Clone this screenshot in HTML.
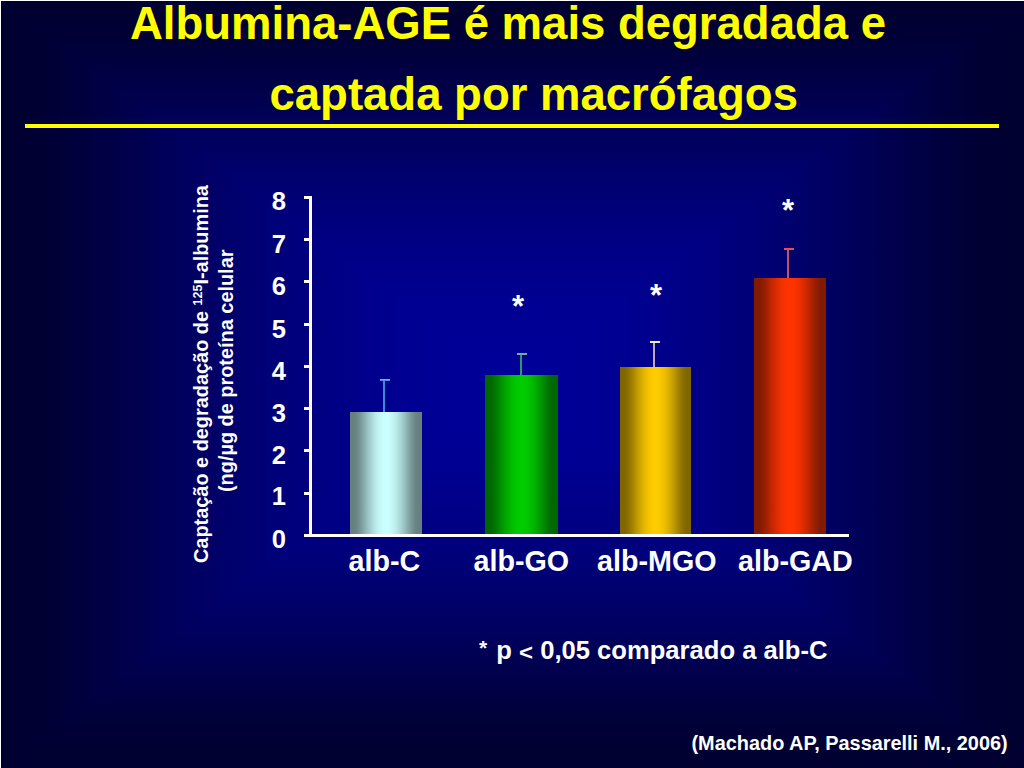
<!DOCTYPE html>
<html><head><meta charset="utf-8">
<style>
html,body{margin:0;padding:0;}
body{width:1024px;height:768px;position:relative;overflow:hidden;background:#000040;font-family:"Liberation Sans",sans-serif;font-weight:bold;}
.tri{position:absolute;left:0;top:0;width:1024px;height:768px;}
.abs{position:absolute;white-space:nowrap;line-height:1;}
.r{position:absolute;}
.title{color:#ffff00;font-size:45.5px;}
.wt{color:#fff;}
.num{position:absolute;color:#fff;font-size:25.6px;line-height:1;width:40px;text-align:right;left:246px;}
.tk{position:absolute;left:304px;width:8px;height:3px;background:#fff;}
.bar{position:absolute;bottom:234px;}
.eb{position:absolute;width:2px;}
.cap{position:absolute;height:2px;width:10px;}
.xl{position:absolute;color:#fff;font-size:28.7px;line-height:1;white-space:nowrap;}
.ast{position:absolute;color:#fff;font-size:31px;line-height:1;}
.yt{position:absolute;color:#fff;font-size:19.9px;line-height:1;white-space:nowrap;transform-origin:0 0;transform:rotate(-90deg);}


.h{background:linear-gradient(to right,#000030 0.0px,#000031 21.3px,#000035 42.7px,#00003a 64.0px,#000040 85.3px,#000046 106.7px,#00004d 128.0px,#000054 149.3px,#00005b 170.7px,#000061 192.0px,#000068 213.3px,#00006e 234.7px,#000074 256.0px,#000079 277.3px,#00007e 298.7px,#000083 320.0px,#000087 341.3px,#00008b 362.7px,#00008f 384.0px,#000092 405.3px,#000094 426.7px,#000096 448.0px,#000098 469.3px,#000099 490.7px,#000099 512.0px,#000099 533.3px,#000098 554.7px,#000096 576.0px,#000094 597.3px,#000092 618.7px,#00008f 640.0px,#00008b 661.3px,#000087 682.7px,#000083 704.0px,#00007e 725.3px,#000079 746.7px,#000074 768.0px,#00006e 789.3px,#000068 810.7px,#000061 832.0px,#00005b 853.3px,#000054 874.7px,#00004d 896.0px,#000046 917.3px,#000040 938.7px,#00003a 960.0px,#000035 981.3px,#000031 1002.7px,#000030 1024.0px);}
.t{clip-path:polygon(0 0,1024px 0,512px 384px);background:linear-gradient(to bottom,#000030 0.0px,#000031 16.0px,#000035 32.0px,#00003a 48.0px,#000040 64.0px,#000046 80.0px,#00004d 96.0px,#000054 112.0px,#00005b 128.0px,#000061 144.0px,#000068 160.0px,#00006e 176.0px,#000074 192.0px,#000079 208.0px,#00007e 224.0px,#000083 240.0px,#000087 256.0px,#00008b 272.0px,#00008f 288.0px,#000092 304.0px,#000094 320.0px,#000096 336.0px,#000098 352.0px,#000099 368.0px,#000099 384.0px);}
.b{clip-path:polygon(0 768px,1024px 768px,512px 384px);background:linear-gradient(to top,#000030 0.0px,#000031 16.0px,#000035 32.0px,#00003a 48.0px,#000040 64.0px,#000046 80.0px,#00004d 96.0px,#000054 112.0px,#00005b 128.0px,#000061 144.0px,#000068 160.0px,#00006e 176.0px,#000074 192.0px,#000079 208.0px,#00007e 224.0px,#000083 240.0px,#000087 256.0px,#00008b 272.0px,#00008f 288.0px,#000092 304.0px,#000094 320.0px,#000096 336.0px,#000098 352.0px,#000099 368.0px,#000099 384.0px);}
.bc{background:linear-gradient(to right,#668080 0.00%,#668080 3.12%,#678181 6.25%,#6b8686 9.38%,#739090 12.50%,#7c9b9b 15.62%,#86a8a8 18.75%,#91b6b6 21.88%,#9cc3c3 25.00%,#a5cfcf 28.12%,#afdada 31.25%,#b7e5e5 34.38%,#beeeee 37.50%,#c4f5f5 40.62%,#c8fafa 43.75%,#cbfefe 46.88%,#ccffff 50.00%,#cbfefe 53.12%,#c8fafa 56.25%,#c4f5f5 59.38%,#beeeee 62.50%,#b7e5e5 65.62%,#afdada 68.75%,#a5cfcf 71.88%,#9cc3c3 75.00%,#91b6b6 78.12%,#86a8a8 81.25%,#7c9b9b 84.38%,#739090 87.50%,#6b8686 90.62%,#678181 93.75%,#668080 96.88%,#668080 100.00%);}
.bg{background:linear-gradient(to right,#006600 0.00%,#006600 3.12%,#006700 6.25%,#006b00 9.38%,#007300 12.50%,#007c00 15.62%,#008600 18.75%,#009100 21.88%,#009c00 25.00%,#00a500 28.12%,#00af00 31.25%,#00b700 34.38%,#00be00 37.50%,#00c400 40.62%,#00c800 43.75%,#00cb00 46.88%,#00cc00 50.00%,#00cb00 53.12%,#00c800 56.25%,#00c400 59.38%,#00be00 62.50%,#00b700 65.62%,#00af00 68.75%,#00a500 71.88%,#009c00 75.00%,#009100 78.12%,#008600 81.25%,#007c00 84.38%,#007300 87.50%,#006b00 90.62%,#006700 93.75%,#006600 96.88%,#006600 100.00%);}
.bm{background:linear-gradient(to right,#806600 0.00%,#806600 3.12%,#816700 6.25%,#866b00 9.38%,#907300 12.50%,#9b7c00 15.62%,#a88600 18.75%,#b69100 21.88%,#c39c00 25.00%,#cfa500 28.12%,#daaf00 31.25%,#e5b700 34.38%,#eebe00 37.50%,#f5c400 40.62%,#fac800 43.75%,#fecb00 46.88%,#ffcc00 50.00%,#fecb00 53.12%,#fac800 56.25%,#f5c400 59.38%,#eebe00 62.50%,#e5b700 65.62%,#daaf00 68.75%,#cfa500 71.88%,#c39c00 75.00%,#b69100 78.12%,#a88600 81.25%,#9b7c00 84.38%,#907300 87.50%,#866b00 90.62%,#816700 93.75%,#806600 96.88%,#806600 100.00%);}
.bd{background:linear-gradient(to right,#801a00 0.00%,#801a00 3.12%,#811a00 6.25%,#861b00 9.38%,#901d00 12.50%,#9b1f00 15.62%,#a82200 18.75%,#b62400 21.88%,#c32700 25.00%,#cf2900 28.12%,#da2c00 31.25%,#e52e00 34.38%,#ee3000 37.50%,#f53100 40.62%,#fa3200 43.75%,#fe3300 46.88%,#ff3300 50.00%,#fe3300 53.12%,#fa3200 56.25%,#f53100 59.38%,#ee3000 62.50%,#e52e00 65.62%,#da2c00 68.75%,#cf2900 71.88%,#c32700 75.00%,#b62400 78.12%,#a82200 81.25%,#9b1f00 84.38%,#901d00 87.50%,#861b00 90.62%,#811a00 93.75%,#801a00 96.88%,#801a00 100.00%);}

</style></head><body>
<div class="tri h"></div><div class="tri t"></div><div class="tri b"></div>
<div class="r" style="left:0;top:1px;width:1024px;height:1px;background:#00001c"></div>
<div class="r" style="left:1px;top:0;width:1px;height:768px;background:#00001c"></div>
<div class="r" style="left:0;top:0;width:1024px;height:1px;background:#fff"></div>
<div class="r" style="left:0;top:0;width:1px;height:768px;background:#fff"></div>
<div class="abs title" style="left:130px;top:1px">Albumina-AGE é mais degradada e</div>
<div class="abs title" style="left:269.5px;top:72px">captada por macrófagos</div>
<div class="r" style="left:25px;top:124px;width:974px;height:4px;background:#ffff00"></div>

<div class="bar bc" style="left:350px;width:72px;top:412px;bottom:auto;height:122px"></div>
<div class="bar bg" style="left:485px;width:73px;top:375px;bottom:auto;height:159px"></div>
<div class="bar bm" style="left:620px;width:71px;top:367px;bottom:auto;height:167px"></div>
<div class="bar bd" style="left:754px;width:72px;top:278px;bottom:auto;height:256px"></div>

<div class="eb" style="left:383px;top:380px;height:32px;background:#3d8ad8"></div>
<div class="cap" style="left:380px;top:379px;height:1px;background:#70b0ff"></div>
<div class="cap" style="left:380px;top:380px;height:1px;background:#4a8ee0"></div>
<div class="eb" style="left:520px;top:354px;height:21px;background:#2a9a6a"></div>
<div class="cap" style="left:517px;top:353px;height:2px;background:#70b0a0"></div>
<div class="eb" style="left:653px;top:342px;height:25px;background:#c0a8b8"></div>
<div class="cap" style="left:650px;top:340.5px;height:2px;background:#f0f0d0"></div>
<div class="eb" style="left:787px;top:250px;height:28px;background:#c05070"></div>
<div class="cap" style="left:784px;top:248px;height:2px;background:#e85050"></div>

<div class="r" style="left:309px;top:196px;width:3px;height:341px;background:#fff"></div>
<div class="r" style="left:304px;top:534px;width:545px;height:3px;background:#fff"></div>
<div class="tk" style="top:196px"></div>
<div class="tk" style="top:238px"></div>
<div class="tk" style="top:280px"></div>
<div class="tk" style="top:323px"></div>
<div class="tk" style="top:365px"></div>
<div class="tk" style="top:407px"></div>
<div class="tk" style="top:449px"></div>
<div class="tk" style="top:492px"></div>

<div class="num" style="top:189px">8</div>
<div class="num" style="top:232px">7</div>
<div class="num" style="top:274px">6</div>
<div class="num" style="top:317px">5</div>
<div class="num" style="top:359px">4</div>
<div class="num" style="top:401px">3</div>
<div class="num" style="top:443px">2</div>
<div class="num" style="top:484px">1</div>
<div class="num" style="top:527px">0</div>

<div class="ast" style="left:512px;top:290.5px">*</div>
<div class="ast" style="left:650px;top:279.5px">*</div>
<div class="ast" style="left:782px;top:195.2px">*</div>

<div class="xl" style="left:348.5px;top:547px">alb-C</div>
<div class="xl" style="left:473.5px;top:547px">alb-GO</div>
<div class="xl" style="left:597px;top:547px">alb-MGO</div>
<div class="xl" style="left:738px;top:547px">alb-GAD</div>

<div class="yt" style="left:192px;top:562.5px">Captação e degradação de <span style="font-size:12.5px;vertical-align:6px">125</span>I-albumina</div>
<div class="yt" style="left:217px;top:492px">(ng/µg de proteína celular</div>

<div class="abs wt" style="left:479px;top:637px;font-size:25.6px"><span style="font-size:21px;vertical-align:4px;margin-right:2px">*</span> p <span style="font-size:24px;vertical-align:-2px;display:inline-block;transform:scaleY(0.9)">&lt;</span> 0,05 comparado a alb-C</div>
<div class="abs wt" style="left:691.5px;top:734px;font-size:19.9px">(Machado AP, Passarelli M., 2006)</div>

</body></html>
